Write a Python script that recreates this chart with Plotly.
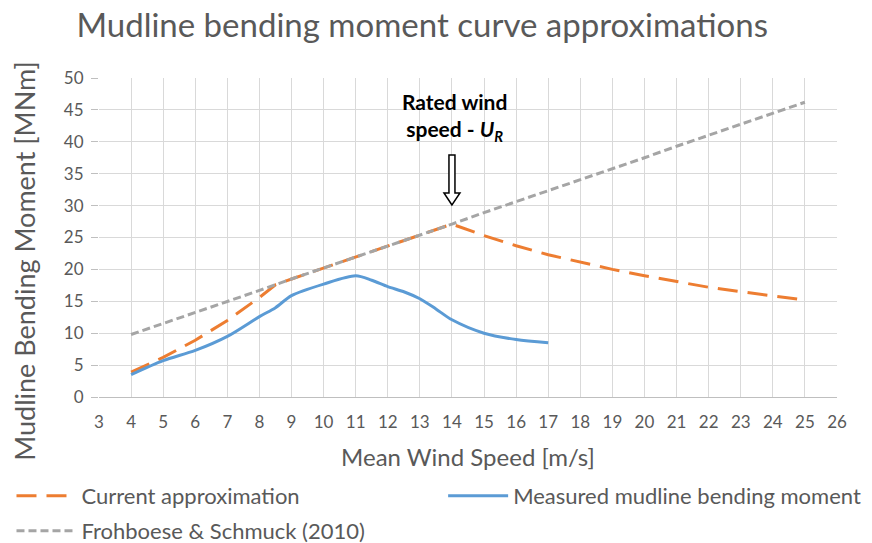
import plotly.graph_objects as go

# ---- data ----
approx_x = [4, 5, 6, 7, 8, 8.5, 9, 10, 11, 12, 13, 14, 15, 16, 17, 18, 19, 20, 21, 22, 23, 24, 25]
approx_y = [3.9, 6.2, 8.9, 12.0, 15.6, 17.6, 18.5, 20.2, 21.9, 23.7, 25.4, 27.1,
            25.3, 23.7, 22.3, 21.1, 20.0, 19.0, 18.1, 17.2, 16.5, 15.8, 15.2]

meas_x = [4, 5, 6, 7, 8, 8.5, 9, 10, 11, 11.5, 12, 12.5, 13, 13.5, 14, 15, 16, 17]
meas_y = [3.5, 5.7, 7.3, 9.5, 12.6, 14.0, 15.9, 17.7, 19.0, 18.3, 17.3, 16.5, 15.4, 13.8, 12.1, 10.0, 9.0, 8.5]

fs_x = list(range(4, 26))
fs_y = [9.8, 11.5, 13.3, 15.0, 16.7, 18.5, 20.2, 21.9, 23.7, 25.4, 27.1,
        28.9, 30.6, 32.3, 34.1, 35.8, 37.5, 39.3, 41.0, 42.7, 44.5, 46.2]

rated_speed = 14
rated_tip = 30.1

FONT = "Lato"
GRAY_TXT = "#595959"

fig = go.Figure()
fig.add_trace(go.Scatter(x=approx_x, y=approx_y, mode="lines", name="Current approximation",
                         line=dict(color="#ed7d31", width=3, dash="20px,10px"),
                         legend="legend"))
fig.add_trace(go.Scatter(x=meas_x, y=meas_y, mode="lines", name="Measured mudline bending moment",
                         line=dict(color="#5b9bd5", width=3, shape="spline", smoothing=0.8),
                         legend="legend2"))
fig.add_trace(go.Scatter(x=fs_x, y=fs_y, mode="lines", name="Frohboese & Schmuck (2010)",
                         line=dict(color="#a5a5a5", width=3, dash="8px,4px"),
                         legend="legend3"))

# hollow arrow marking rated wind speed
fig.add_shape(type="path", xref="x", yref="y", xsizemode="pixel", ysizemode="pixel",
              xanchor=rated_speed, yanchor=rated_tip,
              path="M 0 0 L -8 12 L -3 12 L -3 50 L 3 50 L 3 12 L 8 12 Z",
              line=dict(color="black", width=1.5), fillcolor="white")
fig.add_annotation(x=rated_speed, y=rated_tip, xref="x", yref="y", yshift=58, xshift=3,
                   text="<b>Rated wind<br>speed - <i>U<sub>R</sub></i></b>", showarrow=False,
                   yanchor="bottom", font=dict(family=FONT, size=21, color="black"), align="center")

# y axis title placed like the original (centred on the chart area)
fig.add_annotation(xref="paper", yref="paper", x=-0.102, y=0.426, xanchor="center", yanchor="middle",
                   text="Mudline Bending Moment [MNm]", textangle=-90, showarrow=False,
                   font=dict(family=FONT, size=27, color=GRAY_TXT))

legend_font = dict(family=FONT, size=22, color=GRAY_TXT)
common = dict(orientation="v", xref="container", yref="container", xanchor="left", yanchor="top",
              font=legend_font, itemwidth=60)
fig.update_layout(
    width=872, height=543,
    margin=dict(l=91, r=43, t=70, b=154, autoexpand=False),
    paper_bgcolor="white", plot_bgcolor="white",
    title=dict(text="Mudline bending moment curve approximations", x=0.475, xanchor="center",
               y=0.968, yanchor="middle", font=dict(family=FONT, size=33, color=GRAY_TXT)),
    font=dict(family=FONT, color=GRAY_TXT),
    legend=dict(x=0.004, y=0.14, **common),
    legend2=dict(x=0.499, y=0.14, **common),
    legend3=dict(x=0.004, y=0.0755, **common),
    showlegend=True,
)
fig.update_xaxes(range=[3, 26], tickmode="linear", tick0=3, dtick=1, showgrid=True,
                 gridcolor="#d9d9d9", gridwidth=1, zeroline=False, showline=True, linecolor="#bfbfbf",
                 ticks="", ticklabelstandoff=10, tickfont=dict(family=FONT, size=17, color=GRAY_TXT),
                 title=dict(text="Mean Wind Speed [m/s]", font=dict(family=FONT, size=24, color=GRAY_TXT),
                            standoff=17))
fig.update_yaxes(range=[0, 50], tickmode="linear", tick0=0, dtick=5, showgrid=True,
                 gridcolor="#d9d9d9", gridwidth=1, zeroline=False, showline=False,
                 ticks="outside", ticklen=7, tickcolor="#bfbfbf", ticklabelstandoff=4,
                 tickfont=dict(family=FONT, size=17, color=GRAY_TXT))

fig.write_html("out.html")
